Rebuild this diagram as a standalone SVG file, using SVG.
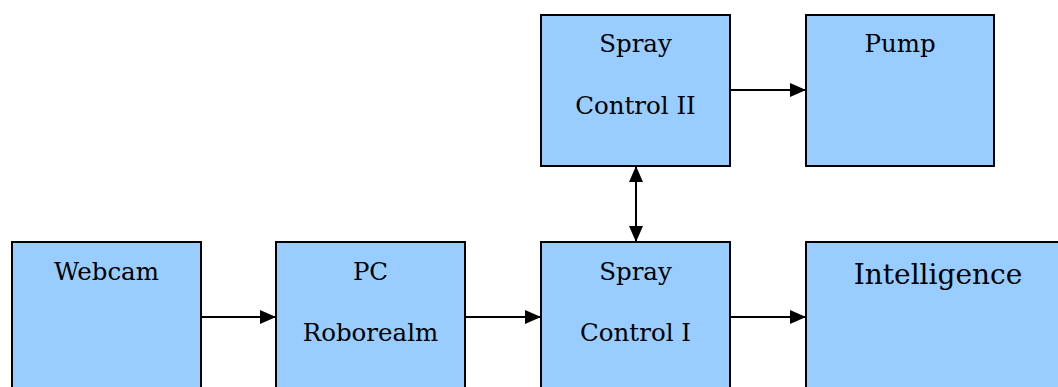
<svg xmlns="http://www.w3.org/2000/svg" width="1058" height="387" viewBox="0 0 1058 387">
<style>
.box{fill:#99CCFF;stroke:#000;stroke-width:2}
.t{font-family:"DejaVu Serif","Liberation Serif",serif;font-size:24.5px;fill:#000;text-anchor:middle}
.big{font-size:28px}
.c{stroke:#000;stroke-width:2;fill:none}
</style>
<defs>
<marker id="ah" viewBox="0 0 16 14" refX="16" refY="7" markerWidth="16" markerHeight="14" markerUnits="userSpaceOnUse" orient="auto-start-reverse">
<path d="M0,0 L16,7 L0,14 Z" fill="#000"/>
</marker>
</defs>
<rect width="1058" height="387" fill="#fff"/>
<g id="connectors">
<line class="c" x1="201" y1="317" x2="276" y2="317" marker-end="url(#ah)"/>
<line class="c" x1="465" y1="317" x2="541" y2="317" marker-end="url(#ah)"/>
<line class="c" x1="730" y1="317" x2="806" y2="317" marker-end="url(#ah)"/>
<line class="c" x1="730" y1="90" x2="806" y2="90" marker-end="url(#ah)"/>
<line class="c" x1="636" y1="166" x2="636" y2="242" marker-start="url(#ah)" marker-end="url(#ah)"/>
</g>
<g id="spray2">
<rect class="box" x="541" y="15" width="189" height="151"/>
<text class="t" x="635.5" y="52">Spray</text>
<text class="t" x="635.5" y="114">Control II</text>
</g>
<g id="pump">
<rect class="box" x="806" y="15" width="188" height="151"/>
<text class="t" x="900" y="52">Pump</text>
</g>
<g id="webcam">
<rect class="box" x="12" y="242" width="189" height="160"/>
<text class="t" x="106.5" y="280">Webcam</text>
</g>
<g id="pc">
<rect class="box" x="276" y="242" width="189" height="160"/>
<text class="t" x="370.5" y="280">PC</text>
<text class="t" x="370.5" y="341">Roborealm</text>
</g>
<g id="spray1">
<rect class="box" x="541" y="242" width="189" height="160"/>
<text class="t" x="635.5" y="280">Spray</text>
<text class="t" x="635.5" y="341">Control I</text>
</g>
<g id="intelligence">
<rect class="box" x="806" y="242" width="270" height="160"/>
<text class="t big" x="938" y="284">Intelligence</text>
</g>
</svg>
